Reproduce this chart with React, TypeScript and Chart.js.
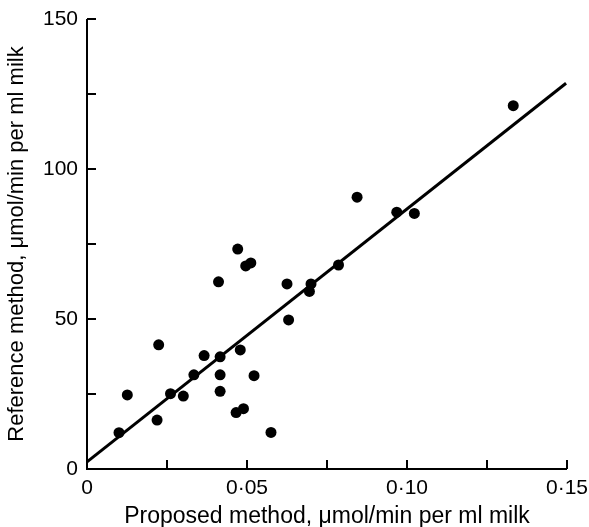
import React, { useEffect, useRef } from 'react';
import { Chart, registerables } from 'chart.js';

Chart.register(...registerables);

// Data
const proposedX = [
  0.0100, 0.0126, 0.0224, 0.0219, 0.0261, 0.0301, 0.0334, 0.0366, 0.0416, 0.0416,
  0.0416, 0.0411, 0.0466, 0.0489, 0.0479, 0.0522, 0.0575, 0.0625, 0.0630, 0.0471,
  0.0496, 0.0512, 0.0700, 0.0695, 0.0786, 0.0844, 0.0968, 0.1023, 0.1332,
];
const referenceY = [
  12.1, 24.7, 41.4, 16.3, 25.1, 24.3, 31.4, 37.8, 37.4, 31.4,
  25.9, 62.4, 18.8, 20.1, 39.7, 31.1, 12.2, 61.7, 49.7, 73.3,
  67.7, 68.7, 61.7, 59.2, 68.0, 90.6, 85.6, 85.2, 121.1,
];
const fitX = [0, 0.1497];
const fitY = [2.4, 128.6];

const xTickValues = [0, 0.025, 0.05, 0.075, 0.1, 0.125, 0.15];
const xLabelValues = [0, 0.05, 0.1, 0.15];
const xLabelTexts = ['0', '0·05', '0·10', '0·15'];
const yTickValues = [0, 25, 50, 75, 100, 125, 150];
const yLabelValues = [0, 50, 100, 150];
const yLabelTexts = ['0', '50', '100', '150'];

const xTitle = 'Proposed method, μmol/min per ml milk';
const yTitle = 'Reference method, μmol/min per ml milk';

const FONT = "'Liberation Sans', Arial, sans-serif";

const innerTicks = {
  id: 'innerTicks',
  afterDraw(chart: any) {
    const { ctx, scales } = chart;
    const xs = scales.x;
    const ys = scales.y;
    const x0 = xs.getPixelForValue(0);
    const y0 = ys.getPixelForValue(0);
    const xEnd = xs.getPixelForValue(0.15);
    const yEnd = ys.getPixelForValue(150);
    ctx.save();
    ctx.strokeStyle = '#000';
    ctx.lineWidth = 2;
    ctx.lineCap = 'butt';
    ctx.beginPath();
    ctx.moveTo(x0, yEnd);
    ctx.lineTo(x0, y0);
    ctx.lineTo(xEnd, y0);
    ctx.stroke();
    ctx.beginPath();
    xTickValues.forEach((v) => {
      if (v === 0) return;
      const px = Math.round(xs.getPixelForValue(v));
      ctx.moveTo(px, y0);
      ctx.lineTo(px, y0 - 9);
    });
    yTickValues.forEach((v) => {
      if (v === 0) return;
      const py = Math.round(ys.getPixelForValue(v));
      ctx.moveTo(x0, py);
      ctx.lineTo(x0 + 9, py);
    });
    ctx.stroke();
    ctx.restore();
  },
};

export default function App() {
  const ref = useRef<HTMLCanvasElement>(null);
  useEffect(() => {
    document.body.style.margin = '0';
    const canvas = ref.current!;
    const chart = new Chart(canvas, {
      type: 'scatter',
      data: {
        datasets: [
          {
            type: 'line',
            data: fitX.map((x, i) => ({ x, y: fitY[i] })),
            borderColor: '#000',
            borderWidth: 3,
            pointRadius: 0,
            fill: false,
            order: 2,
          } as any,
          {
            data: proposedX.map((x, i) => ({ x, y: referenceY[i] })),
            backgroundColor: '#000',
            borderColor: '#000',
            pointRadius: 5.5,
            pointBorderWidth: 0,
            order: 1,
          },
        ],
      },
      options: {
        animation: false,
        responsive: false,
        events: [],
        layout: { padding: { top: 19, right: 22, left: 0, bottom: 0 } },
        plugins: { legend: { display: false }, tooltip: { enabled: false } },
        scales: {
          x: {
            type: 'linear',
            min: 0,
            max: 0.15,
            grid: { display: false, drawTicks: false, tickLength: 0 },
            border: { display: false },
            afterBuildTicks: (s: any) => {
              s.ticks = xLabelValues.map((v) => ({ value: v }));
            },
            afterFit: (s: any) => {
              s.height = 58;
              s.paddingLeft = 0;
              s.paddingRight = 0;
            },
            ticks: {
              color: '#000',
              padding: 7,
              maxRotation: 0,
              autoSkip: false,
              font: { family: FONT, size: 21 },
              callback: (v: any) => {
                const i = xLabelValues.findIndex((t) => Math.abs(t - Number(v)) < 1e-9);
                return i >= 0 ? xLabelTexts[i] : '';
              },
            },
            title: {
              display: true,
              text: xTitle,
              color: '#000',
              font: { family: FONT, size: 23 },
              padding: { top: 0, bottom: -3 },
            },
          },
          y: {
            type: 'linear',
            min: 0,
            max: 150,
            grid: { display: false, drawTicks: false, tickLength: 0 },
            border: { display: false },
            afterBuildTicks: (s: any) => {
              s.ticks = yLabelValues.map((v) => ({ value: v }));
            },
            afterFit: (s: any) => {
              s.width = 87;
              s.paddingTop = 0;
              s.paddingBottom = 0;
            },
            ticks: {
              color: '#000',
              padding: 9,
              autoSkip: false,
              font: { family: FONT, size: 21 },
              callback: (v: any) => {
                const i = yLabelValues.findIndex((t) => Math.abs(t - Number(v)) < 1e-9);
                return i >= 0 ? yLabelTexts[i] : '';
              },
            },
            title: {
              display: true,
              text: yTitle,
              color: '#000',
              font: { family: FONT, size: 22 },
              padding: { top: 4, bottom: 0 },
            },
          },
        },
      },
      plugins: [innerTicks],
    });
    return () => chart.destroy();
  }, []);
  return (
    <div style={{ width: 589, height: 527, background: '#fff' }}>
      <canvas ref={ref} width={589} height={527} style={{ display: 'block' }} />
    </div>
  );
}
